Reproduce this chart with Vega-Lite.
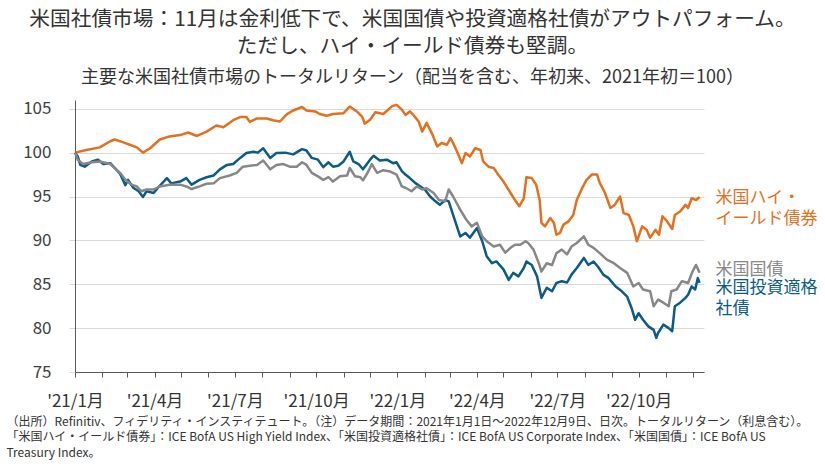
{
  "$schema": "https://vega.github.io/schema/vega-lite/v6.json",
  "width": 629,
  "height": 272,
  "autosize": {"type": "none"},
  "padding": {"left": 75, "top": 100, "right": 121, "bottom": 92},
  "config": {"font": "Noto Sans CJK JP", "view": {"stroke": null}},
  "title": {
    "text": ["米国社債市場：11月は金利低下で、米国国債や投資適格社債がアウトパフォーム。", "ただし、ハイ・イールド債券も堅調。"],
    "subtitle": "主要な米国社債市場のトータルリターン（配当を含む、年初来、2021年初＝100）",
    "anchor": "middle",
    "fontSize": 20.7,
    "fontWeight": "normal",
    "color": "#333333",
    "lineHeight": 27,
    "subtitleFontSize": 18,
    "subtitleColor": "#333333",
    "subtitlePadding": 11,
    "offset": 12,
    "dx": 23
  },
  "data": {
    "values": [
      {"s":"HY","d":"2021-01-01","v":100},{"s":"HY","d":"2021-01-14","v":100.3},{"s":"HY","d":"2021-01-29","v":100.6},{"s":"HY","d":"2021-02-10","v":101.3},{"s":"HY","d":"2021-02-15","v":101.5},{"s":"HY","d":"2021-02-24","v":101.2},{"s":"HY","d":"2021-03-04","v":100.9},{"s":"HY","d":"2021-03-12","v":100.6},{"s":"HY","d":"2021-03-19","v":100.0},{"s":"HY","d":"2021-03-27","v":100.5},{"s":"HY","d":"2021-04-07","v":101.5},{"s":"HY","d":"2021-04-18","v":101.85},{"s":"HY","d":"2021-04-30","v":102.0},{"s":"HY","d":"2021-05-09","v":102.3},{"s":"HY","d":"2021-05-19","v":101.9},{"s":"HY","d":"2021-05-30","v":102.4},{"s":"HY","d":"2021-06-10","v":103.1},{"s":"HY","d":"2021-06-18","v":102.9},{"s":"HY","d":"2021-06-29","v":103.7},{"s":"HY","d":"2021-07-07","v":104.05},{"s":"HY","d":"2021-07-14","v":104.05},{"s":"HY","d":"2021-07-18","v":103.5},{"s":"HY","d":"2021-07-26","v":103.9},{"s":"HY","d":"2021-08-06","v":103.9},{"s":"HY","d":"2021-08-13","v":103.7},{"s":"HY","d":"2021-08-21","v":103.55},{"s":"HY","d":"2021-08-29","v":104.4},{"s":"HY","d":"2021-09-05","v":104.8},{"s":"HY","d":"2021-09-15","v":105.2},{"s":"HY","d":"2021-09-20","v":104.8},{"s":"HY","d":"2021-09-30","v":104.7},{"s":"HY","d":"2021-10-05","v":104.4},{"s":"HY","d":"2021-10-13","v":104.2},{"s":"HY","d":"2021-10-20","v":104.4},{"s":"HY","d":"2021-11-01","v":104.5},{"s":"HY","d":"2021-11-08","v":105.26},{"s":"HY","d":"2021-11-16","v":104.7},{"s":"HY","d":"2021-11-22","v":104.1},{"s":"HY","d":"2021-11-25","v":103.3},{"s":"HY","d":"2021-12-01","v":103.75},{"s":"HY","d":"2021-12-07","v":104.6},{"s":"HY","d":"2021-12-16","v":104.4},{"s":"HY","d":"2021-12-26","v":105.3},{"s":"HY","d":"2021-12-31","v":105.45},{"s":"HY","d":"2022-01-06","v":104.9},{"s":"HY","d":"2022-01-10","v":104.3},{"s":"HY","d":"2022-01-15","v":104.7},{"s":"HY","d":"2022-01-19","v":104.3},{"s":"HY","d":"2022-01-25","v":103.55},{"s":"HY","d":"2022-01-29","v":102.4},{"s":"HY","d":"2022-02-03","v":103.4},{"s":"HY","d":"2022-02-09","v":102.2},{"s":"HY","d":"2022-02-15","v":100.7},{"s":"HY","d":"2022-02-20","v":101.1},{"s":"HY","d":"2022-02-26","v":100.9},{"s":"HY","d":"2022-03-02","v":101.65},{"s":"HY","d":"2022-03-05","v":101.1},{"s":"HY","d":"2022-03-11","v":99.75},{"s":"HY","d":"2022-03-15","v":98.8},{"s":"HY","d":"2022-03-19","v":99.95},{"s":"HY","d":"2022-03-24","v":99.55},{"s":"HY","d":"2022-03-30","v":100.5},{"s":"HY","d":"2022-04-05","v":100.3},{"s":"HY","d":"2022-04-08","v":99.0},{"s":"HY","d":"2022-04-14","v":98.4},{"s":"HY","d":"2022-04-20","v":98.25},{"s":"HY","d":"2022-04-25","v":97.5},{"s":"HY","d":"2022-05-01","v":96.7},{"s":"HY","d":"2022-05-09","v":95.4},{"s":"HY","d":"2022-05-14","v":94.6},{"s":"HY","d":"2022-05-19","v":93.9},{"s":"HY","d":"2022-05-24","v":94.8},{"s":"HY","d":"2022-05-27","v":97.2},{"s":"HY","d":"2022-06-02","v":97.1},{"s":"HY","d":"2022-06-07","v":96.35},{"s":"HY","d":"2022-06-11","v":94.6},{"s":"HY","d":"2022-06-13","v":92.0},{"s":"HY","d":"2022-06-17","v":91.6},{"s":"HY","d":"2022-06-23","v":92.55},{"s":"HY","d":"2022-06-27","v":92.0},{"s":"HY","d":"2022-06-30","v":90.65},{"s":"HY","d":"2022-07-04","v":90.85},{"s":"HY","d":"2022-07-08","v":91.8},{"s":"HY","d":"2022-07-14","v":92.2},{"s":"HY","d":"2022-07-19","v":92.9},{"s":"HY","d":"2022-07-23","v":94.6},{"s":"HY","d":"2022-07-29","v":95.95},{"s":"HY","d":"2022-08-03","v":96.9},{"s":"HY","d":"2022-08-09","v":97.5},{"s":"HY","d":"2022-08-15","v":97.5},{"s":"HY","d":"2022-08-18","v":96.55},{"s":"HY","d":"2022-08-24","v":95.4},{"s":"HY","d":"2022-08-30","v":93.7},{"s":"HY","d":"2022-09-04","v":94.05},{"s":"HY","d":"2022-09-10","v":95.0},{"s":"HY","d":"2022-09-14","v":93.1},{"s":"HY","d":"2022-09-20","v":92.9},{"s":"HY","d":"2022-09-25","v":91.6},{"s":"HY","d":"2022-09-29","v":89.9},{"s":"HY","d":"2022-10-05","v":91.6},{"s":"HY","d":"2022-10-10","v":91.2},{"s":"HY","d":"2022-10-14","v":90.3},{"s":"HY","d":"2022-10-20","v":91.2},{"s":"HY","d":"2022-10-24","v":90.65},{"s":"HY","d":"2022-10-28","v":92.75},{"s":"HY","d":"2022-11-02","v":92.2},{"s":"HY","d":"2022-11-08","v":91.3},{"s":"HY","d":"2022-11-11","v":92.9},{"s":"HY","d":"2022-11-17","v":93.3},{"s":"HY","d":"2022-11-23","v":94.05},{"s":"HY","d":"2022-11-26","v":93.7},{"s":"HY","d":"2022-11-30","v":94.8},{"s":"HY","d":"2022-12-05","v":94.6},{"s":"HY","d":"2022-12-09","v":94.95},

      {"s":"IG","d":"2021-01-01","v":100},{"s":"IG","d":"2021-01-04","v":99.6},{"s":"IG","d":"2021-01-07","v":98.6},{"s":"IG","d":"2021-01-12","v":98.4},{"s":"IG","d":"2021-01-20","v":99.0},{"s":"IG","d":"2021-01-27","v":99.2},{"s":"IG","d":"2021-02-02","v":98.7},{"s":"IG","d":"2021-02-10","v":98.8},{"s":"IG","d":"2021-02-15","v":98.25},{"s":"IG","d":"2021-02-21","v":97.6},{"s":"IG","d":"2021-02-27","v":96.3},{"s":"IG","d":"2021-03-02","v":96.9},{"s":"IG","d":"2021-03-08","v":96.0},{"s":"IG","d":"2021-03-14","v":95.6},{"s":"IG","d":"2021-03-19","v":94.95},{"s":"IG","d":"2021-03-23","v":95.6},{"s":"IG","d":"2021-03-31","v":95.4},{"s":"IG","d":"2021-04-05","v":96.0},{"s":"IG","d":"2021-04-15","v":97.1},{"s":"IG","d":"2021-04-20","v":96.5},{"s":"IG","d":"2021-04-30","v":96.7},{"s":"IG","d":"2021-05-07","v":97.1},{"s":"IG","d":"2021-05-13","v":96.35},{"s":"IG","d":"2021-05-22","v":96.9},{"s":"IG","d":"2021-05-30","v":97.2},{"s":"IG","d":"2021-06-07","v":97.4},{"s":"IG","d":"2021-06-14","v":98.1},{"s":"IG","d":"2021-06-22","v":98.6},{"s":"IG","d":"2021-06-29","v":98.7},{"s":"IG","d":"2021-07-07","v":99.4},{"s":"IG","d":"2021-07-14","v":99.95},{"s":"IG","d":"2021-07-22","v":100.1},{"s":"IG","d":"2021-07-27","v":100.0},{"s":"IG","d":"2021-08-02","v":100.5},{"s":"IG","d":"2021-08-10","v":99.4},{"s":"IG","d":"2021-08-17","v":99.95},{"s":"IG","d":"2021-08-27","v":100.0},{"s":"IG","d":"2021-09-05","v":99.8},{"s":"IG","d":"2021-09-15","v":100.4},{"s":"IG","d":"2021-09-20","v":100.25},{"s":"IG","d":"2021-09-26","v":99.4},{"s":"IG","d":"2021-10-03","v":99.2},{"s":"IG","d":"2021-10-09","v":98.35},{"s":"IG","d":"2021-10-15","v":98.9},{"s":"IG","d":"2021-10-20","v":98.4},{"s":"IG","d":"2021-10-26","v":98.5},{"s":"IG","d":"2021-11-01","v":99.0},{"s":"IG","d":"2021-11-08","v":100.1},{"s":"IG","d":"2021-11-12","v":99.0},{"s":"IG","d":"2021-11-18","v":98.7},{"s":"IG","d":"2021-11-23","v":98.1},{"s":"IG","d":"2021-12-01","v":99.2},{"s":"IG","d":"2021-12-05","v":99.65},{"s":"IG","d":"2021-12-12","v":99.1},{"s":"IG","d":"2021-12-20","v":99.2},{"s":"IG","d":"2021-12-27","v":98.8},{"s":"IG","d":"2021-12-31","v":98.9},{"s":"IG","d":"2022-01-06","v":97.9},{"s":"IG","d":"2022-01-10","v":97.5},{"s":"IG","d":"2022-01-15","v":97.1},{"s":"IG","d":"2022-01-21","v":96.55},{"s":"IG","d":"2022-01-27","v":96.15},{"s":"IG","d":"2022-02-01","v":95.8},{"s":"IG","d":"2022-02-07","v":95.0},{"s":"IG","d":"2022-02-13","v":94.45},{"s":"IG","d":"2022-02-18","v":94.05},{"s":"IG","d":"2022-02-24","v":94.6},{"s":"IG","d":"2022-02-28","v":94.45},{"s":"IG","d":"2022-03-05","v":92.9},{"s":"IG","d":"2022-03-13","v":90.45},{"s":"IG","d":"2022-03-19","v":90.85},{"s":"IG","d":"2022-03-24","v":90.3},{"s":"IG","d":"2022-04-01","v":91.4},{"s":"IG","d":"2022-04-07","v":89.9},{"s":"IG","d":"2022-04-12","v":88.2},{"s":"IG","d":"2022-04-18","v":87.4},{"s":"IG","d":"2022-04-23","v":87.6},{"s":"IG","d":"2022-05-01","v":86.7},{"s":"IG","d":"2022-05-07","v":85.5},{"s":"IG","d":"2022-05-12","v":86.3},{"s":"IG","d":"2022-05-18","v":85.9},{"s":"IG","d":"2022-05-24","v":86.85},{"s":"IG","d":"2022-05-27","v":87.6},{"s":"IG","d":"2022-06-02","v":87.2},{"s":"IG","d":"2022-06-08","v":85.9},{"s":"IG","d":"2022-06-13","v":83.45},{"s":"IG","d":"2022-06-19","v":84.6},{"s":"IG","d":"2022-06-25","v":84.2},{"s":"IG","d":"2022-06-30","v":85.15},{"s":"IG","d":"2022-07-06","v":85.35},{"s":"IG","d":"2022-07-12","v":85.2},{"s":"IG","d":"2022-07-17","v":86.1},{"s":"IG","d":"2022-07-23","v":86.85},{"s":"IG","d":"2022-07-31","v":88.0},{"s":"IG","d":"2022-08-05","v":87.2},{"s":"IG","d":"2022-08-11","v":87.6},{"s":"IG","d":"2022-08-16","v":87.0},{"s":"IG","d":"2022-08-22","v":86.1},{"s":"IG","d":"2022-08-28","v":85.7},{"s":"IG","d":"2022-09-05","v":84.75},{"s":"IG","d":"2022-09-12","v":84.2},{"s":"IG","d":"2022-09-18","v":83.6},{"s":"IG","d":"2022-09-23","v":82.3},{"s":"IG","d":"2022-09-27","v":80.95},{"s":"IG","d":"2022-10-01","v":81.7},{"s":"IG","d":"2022-10-06","v":80.95},{"s":"IG","d":"2022-10-12","v":80.2},{"s":"IG","d":"2022-10-18","v":79.8},{"s":"IG","d":"2022-10-21","v":78.9},{"s":"IG","d":"2022-10-23","v":79.45},{"s":"IG","d":"2022-10-29","v":80.4},{"s":"IG","d":"2022-11-04","v":80.0},{"s":"IG","d":"2022-11-08","v":79.65},{"s":"IG","d":"2022-11-11","v":82.5},{"s":"IG","d":"2022-11-17","v":82.9},{"s":"IG","d":"2022-11-23","v":83.45},{"s":"IG","d":"2022-11-26","v":83.8},{"s":"IG","d":"2022-11-30","v":84.75},{"s":"IG","d":"2022-12-04","v":84.4},{"s":"IG","d":"2022-12-07","v":85.7},{"s":"IG","d":"2022-12-09","v":85.15},

      {"s":"UST","d":"2021-01-01","v":100},{"s":"UST","d":"2021-01-04","v":99.2},{"s":"UST","d":"2021-01-10","v":98.7},{"s":"UST","d":"2021-01-20","v":98.9},{"s":"UST","d":"2021-01-29","v":99.0},{"s":"UST","d":"2021-02-10","v":98.7},{"s":"UST","d":"2021-02-15","v":98.25},{"s":"UST","d":"2021-02-21","v":97.7},{"s":"UST","d":"2021-02-27","v":96.9},{"s":"UST","d":"2021-03-06","v":96.35},{"s":"UST","d":"2021-03-12","v":96.15},{"s":"UST","d":"2021-03-17","v":95.6},{"s":"UST","d":"2021-03-23","v":95.8},{"s":"UST","d":"2021-03-31","v":95.8},{"s":"UST","d":"2021-04-07","v":96.15},{"s":"UST","d":"2021-04-18","v":96.35},{"s":"UST","d":"2021-04-30","v":96.35},{"s":"UST","d":"2021-05-07","v":96.15},{"s":"UST","d":"2021-05-13","v":95.85},{"s":"UST","d":"2021-05-22","v":96.15},{"s":"UST","d":"2021-05-30","v":96.45},{"s":"UST","d":"2021-06-07","v":96.5},{"s":"UST","d":"2021-06-14","v":97.1},{"s":"UST","d":"2021-06-25","v":97.4},{"s":"UST","d":"2021-07-03","v":97.7},{"s":"UST","d":"2021-07-10","v":98.4},{"s":"UST","d":"2021-07-18","v":98.5},{"s":"UST","d":"2021-07-26","v":98.6},{"s":"UST","d":"2021-08-02","v":99.1},{"s":"UST","d":"2021-08-10","v":98.1},{"s":"UST","d":"2021-08-17","v":98.6},{"s":"UST","d":"2021-08-25","v":98.7},{"s":"UST","d":"2021-09-01","v":98.4},{"s":"UST","d":"2021-09-09","v":98.4},{"s":"UST","d":"2021-09-15","v":98.9},{"s":"UST","d":"2021-09-20","v":98.6},{"s":"UST","d":"2021-09-26","v":97.7},{"s":"UST","d":"2021-10-03","v":97.3},{"s":"UST","d":"2021-10-09","v":96.9},{"s":"UST","d":"2021-10-15","v":97.2},{"s":"UST","d":"2021-10-20","v":96.7},{"s":"UST","d":"2021-10-28","v":97.3},{"s":"UST","d":"2021-11-05","v":97.4},{"s":"UST","d":"2021-11-08","v":98.25},{"s":"UST","d":"2021-11-14","v":97.3},{"s":"UST","d":"2021-11-20","v":97.2},{"s":"UST","d":"2021-11-23","v":96.85},{"s":"UST","d":"2021-11-29","v":97.85},{"s":"UST","d":"2021-12-03","v":98.7},{"s":"UST","d":"2021-12-09","v":97.7},{"s":"UST","d":"2021-12-16","v":98.0},{"s":"UST","d":"2021-12-24","v":97.85},{"s":"UST","d":"2021-12-31","v":97.5},{"s":"UST","d":"2022-01-06","v":96.15},{"s":"UST","d":"2022-01-10","v":96.0},{"s":"UST","d":"2022-01-17","v":95.6},{"s":"UST","d":"2022-01-23","v":96.15},{"s":"UST","d":"2022-01-29","v":95.8},{"s":"UST","d":"2022-02-03","v":95.95},{"s":"UST","d":"2022-02-11","v":95.4},{"s":"UST","d":"2022-02-17","v":94.6},{"s":"UST","d":"2022-02-24","v":94.45},{"s":"UST","d":"2022-02-28","v":95.8},{"s":"UST","d":"2022-03-05","v":95.0},{"s":"UST","d":"2022-03-13","v":93.5},{"s":"UST","d":"2022-03-20","v":92.35},{"s":"UST","d":"2022-03-26","v":91.6},{"s":"UST","d":"2022-04-01","v":92.0},{"s":"UST","d":"2022-04-07","v":90.45},{"s":"UST","d":"2022-04-12","v":89.9},{"s":"UST","d":"2022-04-20","v":89.3},{"s":"UST","d":"2022-04-27","v":89.5},{"s":"UST","d":"2022-05-03","v":88.6},{"s":"UST","d":"2022-05-09","v":89.15},{"s":"UST","d":"2022-05-14","v":89.5},{"s":"UST","d":"2022-05-20","v":89.5},{"s":"UST","d":"2022-05-26","v":89.9},{"s":"UST","d":"2022-05-29","v":89.7},{"s":"UST","d":"2022-06-04","v":88.95},{"s":"UST","d":"2022-06-10","v":87.4},{"s":"UST","d":"2022-06-13","v":86.45},{"s":"UST","d":"2022-06-19","v":87.4},{"s":"UST","d":"2022-06-25","v":87.2},{"s":"UST","d":"2022-06-30","v":88.55},{"s":"UST","d":"2022-07-06","v":88.95},{"s":"UST","d":"2022-07-12","v":88.4},{"s":"UST","d":"2022-07-17","v":89.3},{"s":"UST","d":"2022-07-23","v":89.7},{"s":"UST","d":"2022-07-31","v":90.45},{"s":"UST","d":"2022-08-05","v":89.5},{"s":"UST","d":"2022-08-11","v":89.15},{"s":"UST","d":"2022-08-18","v":88.55},{"s":"UST","d":"2022-08-26","v":87.8},{"s":"UST","d":"2022-09-03","v":87.4},{"s":"UST","d":"2022-09-10","v":86.85},{"s":"UST","d":"2022-09-18","v":86.3},{"s":"UST","d":"2022-09-25","v":84.75},{"s":"UST","d":"2022-10-01","v":85.15},{"s":"UST","d":"2022-10-06","v":84.4},{"s":"UST","d":"2022-10-14","v":84.2},{"s":"UST","d":"2022-10-18","v":82.5},{"s":"UST","d":"2022-10-23","v":83.25},{"s":"UST","d":"2022-10-29","v":82.9},{"s":"UST","d":"2022-11-04","v":82.5},{"s":"UST","d":"2022-11-07","v":84.2},{"s":"UST","d":"2022-11-13","v":84.4},{"s":"UST","d":"2022-11-19","v":85.35},{"s":"UST","d":"2022-11-26","v":85.15},{"s":"UST","d":"2022-12-01","v":86.45},{"s":"UST","d":"2022-12-05","v":87.2},{"s":"UST","d":"2022-12-09","v":86.3}
    ]
  },
  "encoding": {
    "x": {
      "field": "d",
      "type": "temporal",
      "scale": {"type": "utc", "domain": [{"year": 2021, "month": 1, "date": 1, "utc": true}, {"year": 2022, "month": 12, "date": 14, "utc": true}], "nice": false},
      "axis": {
        "tickCount": {"interval": "month", "step": 1},
        "labelExpr": "utcmonth(datum.value) % 3 == 0 ? \"'\" + utcFormat(datum.value, '%y') + '/' + (utcmonth(datum.value) + 1) + '月' : ''",
        "labelOverlap": false,
        "labelBound": false,
        "labelFlush": false,
        "labelFontSize": 17,
        "labelColor": "#333333",
        "labelPadding": 16,
        "labelBaseline": "top",
        "grid": false,
        "domainColor": "#595959",
        "tickColor": "#595959",
        "tickSize": 5,
        "title": ["（出所）Refinitiv、フィデリティ・インスティテュート。（注）データ期間：2021年1月1日～2022年12月9日、日次。トータルリターン（利息含む）。", "「米国ハイ・イールド債券」：ICE BofA US High Yield Index、「米国投資適格社債」：ICE BofA US Corporate Index、「米国国債」：ICE BofA US", "Treasury Index。"],
        "titleFontSize": 12,
        "titleFontWeight": "normal",
        "titleColor": "#333333",
        "titleAlign": "left",
        "titleAnchor": "start",
        "titleBaseline": "top",
        "titleLineHeight": 15.5,
        "titleX": -69,
        "titleY": 44
      }
    },
    "y": {
      "field": "v",
      "type": "quantitative",
      "scale": {"domain": [75, 106], "nice": false, "zero": false},
      "axis": {
        "values": [75, 80, 85, 90, 95, 100, 105],
        "title": null,
        "grid": true,
        "gridColor": "#d9d9d9",
        "domainColor": "#595959",
        "tickColor": "#d9d9d9",
        "tickSize": 6,
        "labelPadding": 18,
        "labelFontSize": 17,
        "labelColor": "#404040"
      }
    }
  },
  "layer": [
    {
      "mark": {"type": "line", "strokeWidth": 2.5, "strokeJoin": "round"},
      "encoding": {
        "color": {
          "field": "s",
          "type": "nominal",
          "scale": {"domain": ["HY", "IG", "UST"], "range": ["#E3701E", "#0B5B86", "#878787"]},
          "legend": null
        },
        "order": {"field": "d", "type": "temporal"},
        "detail": {"field": "s"}
      }
    },
    {
      "transform": [{"filter": "datum.s === 'HY' && utcyear(datum.d) == 2022 && utcmonth(datum.d) == 11 && utcdate(datum.d) == 9"}],
      "mark": {"type": "text", "text": ["米国ハイ・", "イールド債券"], "align": "left", "baseline": "middle", "dx": 16, "dy": 1, "fontSize": 17, "lineHeight": 21, "color": "#E3701E"}
    },
    {
      "transform": [{"filter": "datum.s === 'UST' && utcyear(datum.d) == 2022 && utcmonth(datum.d) == 11 && utcdate(datum.d) == 9"}],
      "mark": {"type": "text", "text": "米国国債", "align": "left", "baseline": "middle", "dx": 16, "dy": -3, "fontSize": 17, "color": "#878787"}
    },
    {
      "transform": [{"filter": "datum.s === 'IG' && utcyear(datum.d) == 2022 && utcmonth(datum.d) == 11 && utcdate(datum.d) == 9"}],
      "mark": {"type": "text", "text": ["米国投資適格", "社債"], "align": "left", "baseline": "middle", "dx": 16, "dy": 5, "fontSize": 17, "lineHeight": 21, "color": "#0B5B86"}
    }
  ]
}
